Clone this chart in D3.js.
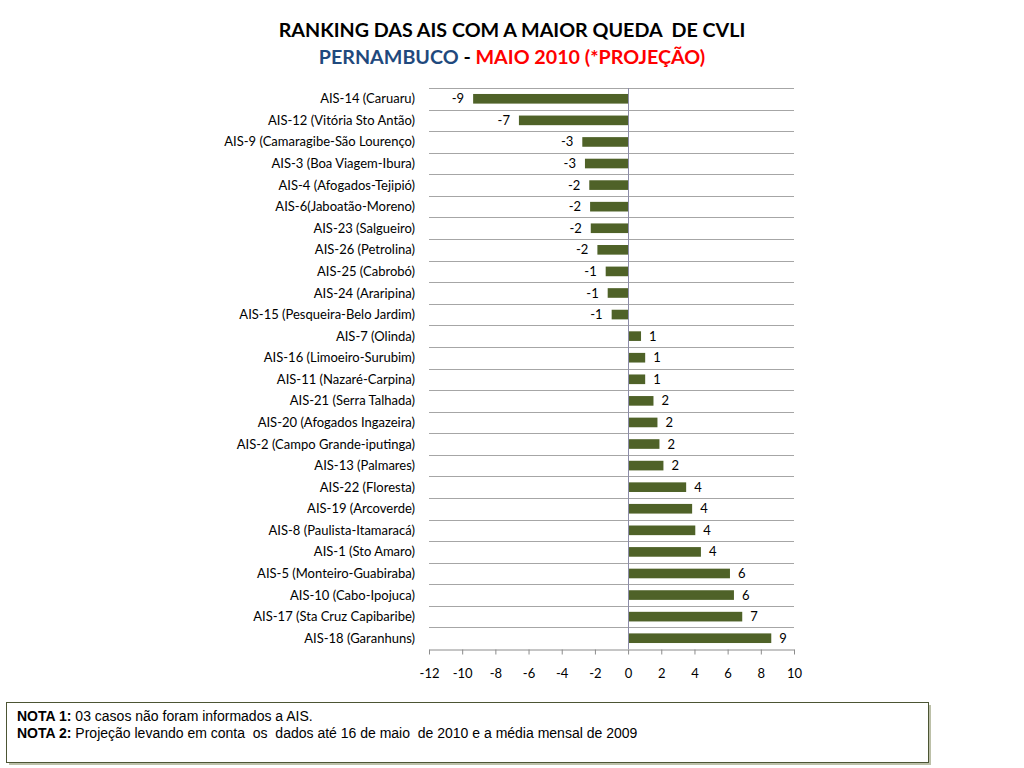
<html>
  <head>
    <meta charset="UTF-8">
    <script src="https://cdnjs.cloudflare.com/ajax/libs/d3/7.8.5/d3.min.js"></script>
    <style>
      body { margin: 0; background: #ffffff; }
      svg { display: block; }
      .cat { font-family: Lato, 'Noto Sans', sans-serif; font-size: 13px; fill: #000; }
      .val { font-family: Lato, 'Noto Sans', sans-serif; font-size: 13px; fill: #000; }
      .tick text { font-family: Lato, 'Noto Sans', sans-serif; font-size: 13px; fill: #000; }
      .note { font-family: 'Liberation Sans', Arial, sans-serif; font-size: 14px; fill: #000; }
    </style>
  </head>
  <body>
    <svg id="chart"></svg>
    <script>
      const categories = [
        'AIS-14 (Caruaru)', 'AIS-12 (Vitória Sto Antão)', 'AIS-9 (Camaragibe-São Lourenço)',
        'AIS-3 (Boa Viagem-Ibura)', 'AIS-4 (Afogados-Tejipió)', 'AIS-6(Jaboatão-Moreno)',
        'AIS-23 (Salgueiro)', 'AIS-26 (Petrolina)', 'AIS-25 (Cabrobó)', 'AIS-24 (Araripina)',
        'AIS-15 (Pesqueira-Belo Jardim)', 'AIS-7 (Olinda)', 'AIS-16 (Limoeiro-Surubim)',
        'AIS-11 (Nazaré-Carpina)', 'AIS-21 (Serra Talhada)', 'AIS-20 (Afogados Ingazeira)',
        'AIS-2 (Campo Grande-iputinga)', 'AIS-13 (Palmares)', 'AIS-22 (Floresta)',
        'AIS-19 (Arcoverde)', 'AIS-8 (Paulista-Itamaracá)', 'AIS-1 (Sto Amaro)',
        'AIS-5 (Monteiro-Guabiraba)', 'AIS-10 (Cabo-Ipojuca)', 'AIS-17 (Sta Cruz Capibaribe)',
        'AIS-18 (Garanhuns)'
      ]
      // projected values (bar lengths)
      const values = [
        -9.34, -6.58, -2.76, -2.60, -2.34, -2.29, -2.25, -1.85, -1.35, -1.23, -0.99,
        0.78, 1.03, 1.03, 1.53, 1.77, 1.89, 2.13, 3.50, 3.86, 4.05, 4.39,
        6.14, 6.38, 6.88, 8.63
      ]
      // rounded labels shown next to the bars
      const labels = [
        -9, -7, -3, -3, -2, -2, -2, -2, -1, -1, -1,
        1, 1, 1, 2, 2, 2, 2, 4, 4, 4, 4, 6, 6, 7, 9
      ]
      const xTicks = [-12, -10, -8, -6, -4, -2, 0, 2, 4, 6, 8, 10]

      const width = 1024
      const height = 768
      const plot = { left: 429, right: 794, top: 88, bottom: 649 }

      const svg = d3.select('#chart')
        .attr('width', width)
        .attr('height', height)

      const x = d3.scaleLinear()
        .domain([-12, 10])
        .range([plot.left, plot.right])

      const y = d3.scaleBand()
        .domain(categories)
        .range([plot.top, plot.bottom])
        .paddingInner(0.6)
        .paddingOuter(0.3)

      // title
      svg.append('text')
        .attr('x', 512).attr('y', 37)
        .attr('text-anchor', 'middle')
        .attr('xml:space', 'preserve')
        .style('font-family', "Lato, 'Noto Sans', sans-serif")
        .style('font-weight', 'bold')
        .style('font-size', '19.7px')
        .text('RANKING DAS AIS COM A MAIOR QUEDA  DE CVLI')

      const sub = svg.append('text')
        .attr('x', 512).attr('y', 64)
        .attr('text-anchor', 'middle')
        .style('font-family', "Lato, 'Noto Sans', sans-serif")
        .style('font-weight', 'bold')
        .style('font-size', '19.7px')
      sub.append('tspan').attr('fill', '#1f497d').text('PERNAMBUCO')
      sub.append('tspan').attr('fill', '#000').text(' - ')
      sub.append('tspan').attr('fill', '#ff0000').text('MAIO 2010 (*PROJEÇÃO)')

      // horizontal gridlines at category boundaries
      const step = y.step()
      const bounds = d3.range(categories.length).map(i => y(categories[i]) - y.paddingInner() * step / 2)
      svg.append('g')
        .selectAll('line')
        .data(bounds)
        .join('line')
        .attr('x1', plot.left).attr('x2', plot.right)
        .attr('y1', d => Math.round(d) + 0.5).attr('y2', d => Math.round(d) + 0.5)
        .attr('stroke', '#a6a6a6')
        .attr('stroke-width', 1)

      // bars
      svg.append('g')
        .selectAll('rect')
        .data(values)
        .join('rect')
        .attr('x', d => x(Math.min(0, d)))
        .attr('width', d => Math.abs(x(d) - x(0)))
        .attr('y', (d, i) => y(categories[i]) - 0.5)
        .attr('height', y.bandwidth() + 1)
        .attr('fill', '#4f6228')

      // value labels
      svg.append('g')
        .selectAll('text')
        .data(values)
        .join('text')
        .attr('class', 'val')
        .attr('x', d => d < 0 ? x(d) - 9 : x(d) + 8)
        .attr('y', (d, i) => y(categories[i]) + y.bandwidth() / 2)
        .attr('dy', '0.35em')
        .attr('text-anchor', d => d < 0 ? 'end' : 'start')
        .text((d, i) => labels[i])

      // vertical zero axis
      svg.append('line')
        .attr('x1', Math.round(x(0)) + 0.5).attr('x2', Math.round(x(0)) + 0.5)
        .attr('y1', plot.top).attr('y2', plot.bottom)
        .attr('stroke', '#8c8ca8')

      // category labels
      svg.append('g')
        .selectAll('text')
        .data(categories)
        .join('text')
        .attr('class', 'cat')
        .attr('x', 415)
        .attr('y', d => y(d) + y.bandwidth() / 2)
        .attr('dy', '0.35em')
        .attr('text-anchor', 'end')
        .text(d => d)

      // x axis
      const xAxis = svg.append('g')
        .attr('transform', `translate(0, ${plot.bottom + 0.5})`)
        .call(d3.axisBottom(x).tickValues(xTicks).tickFormat(d => String(d))
          .tickSize(5).tickPadding(14).tickSizeOuter(0))
      xAxis.select('.domain').attr('stroke', '#8c8c8c')
      xAxis.selectAll('.tick line').attr('stroke', '#8c8c8c')

      // notes box
      const box = { x: 6, y: 702, w: 922, h: 60 }
      svg.append('rect')
        .attr('x', box.x + 3).attr('y', box.y + 3)
        .attr('width', box.w).attr('height', box.h)
        .attr('fill', '#bcc0a8')
      svg.append('rect')
        .attr('x', box.x + 0.5).attr('y', box.y + 0.5)
        .attr('width', box.w).attr('height', box.h)
        .attr('fill', '#fff')
        .attr('stroke', '#4c5534')

      const notes = [
        { head: 'NOTA 1:', body: ' 03 casos não foram informados a AIS.' },
        { head: 'NOTA 2:', body: ' Projeção levando em conta  os  dados até 16 de maio  de 2010 e a média mensal de 2009' }
      ]
      const nt = svg.append('g')
        .selectAll('text')
        .data(notes)
        .join('text')
        .attr('class', 'note')
        .attr('xml:space', 'preserve')
        .attr('x', 17)
        .attr('y', (d, i) => 721 + i * 17)
      nt.append('tspan').style('font-weight', 'bold').text(d => d.head)
      nt.append('tspan').text(d => d.body)
    </script>
  </body>
</html>
